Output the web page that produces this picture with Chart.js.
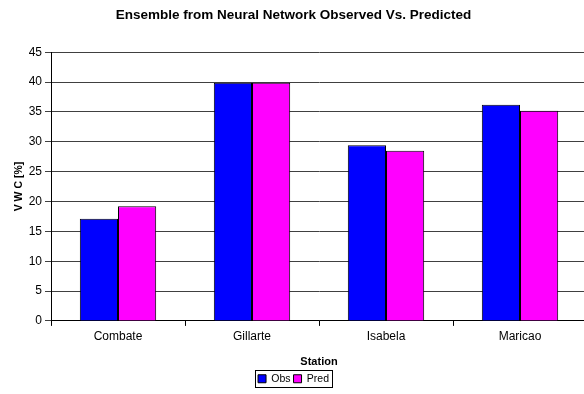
<!DOCTYPE html>
<html>
<head>
<meta charset="utf-8">
<style>
  html, body { margin: 0; padding: 0; background: #fff; overflow: hidden; }
  #wrap { width: 587px; height: 394px; }
</style>
<script src="https://cdn.jsdelivr.net/npm/chart.js@4/dist/chart.umd.min.js"></script>
</head>
<body>
<div id="wrap"><canvas id="c" width="587" height="394"></canvas></div>
<script>
// Stations and volumetric water content (%)
const stations = ['Combate', 'Gillarte', 'Isabela', 'Maricao'];
const observed = [17.1, 39.9, 29.4, 36.2];
const predicted = [19.2, 39.9, 28.5, 35.2];
const yTicks = [0, 5, 10, 15, 20, 25, 30, 35, 40, 45];

const FONT = 'Arial, "Liberation Sans", sans-serif';

// Draws a thin frame around the legend items
const legendFrame = {
  id: 'legendFrame',
  afterDraw(chart) {
    const lg = chart.legend;
    if (!lg || !lg.legendHitBoxes || !lg.legendHitBoxes.length) return;
    const boxes = lg.legendHitBoxes;
    let x0 = Infinity, x1 = -Infinity, y0 = Infinity, y1 = -Infinity;
    boxes.forEach(b => {
      x0 = Math.min(x0, b.left); x1 = Math.max(x1, b.left + b.width);
      y0 = Math.min(y0, b.top); y1 = Math.max(y1, b.top + b.height);
    });
    const ctx = chart.ctx;
    ctx.save();
    ctx.strokeStyle = '#000';
    ctx.lineWidth = 1;
    const left = Math.round(x0 - 3) + 0.5;
    const right = Math.round(x1 + 3) + 0.5;
    const top = Math.round(y0 - 4) + 0.5;
    const bottom = Math.round(y1 + 3) + 0.5;
    ctx.strokeRect(left, top, right - left, bottom - top);
    ctx.restore();
  }
};

new Chart(document.getElementById('c'), {
  type: 'bar',
  data: {
    labels: stations,
    datasets: [
      { label: 'Obs', data: observed, backgroundColor: '#0000ff', borderColor: '#000', borderWidth: 1 },
      { label: 'Pred', data: predicted, backgroundColor: '#ff00ff', borderColor: '#000', borderWidth: 1 }
    ]
  },
  options: {
    responsive: false,
    animation: false,
    layout: { padding: { left: 0, right: 0, top: 0, bottom: 0 } },
    datasets: { bar: { categoryPercentage: 0.57, barPercentage: 1.0 } },
    plugins: {
      title: {
        display: true,
        text: 'Ensemble from Neural Network Observed Vs. Predicted',
        color: '#000',
        font: { family: FONT, size: 13.5, weight: 'bold' },
        padding: { top: 7, bottom: 29 }
      },
      legend: {
        display: true,
        position: 'bottom',
        labels: {
          color: '#000',
          font: { family: FONT, size: 10.5 },
          boxWidth: 8,
          boxHeight: 8,
          padding: 3
        }
      },
      tooltip: { enabled: false }
    },
    scales: {
      x: {
        grid: { drawOnChartArea: false, drawTicks: true, tickLength: 5, color: '#000', offset: true },
        border: { color: '#000', width: 1 },
        ticks: { color: '#000', font: { family: FONT, size: 12 }, padding: 4 },
        title: {
          display: true, text: 'Station', color: '#000',
          font: { family: FONT, size: 11, weight: 'bold' }, padding: { top: 7, bottom: 2 }
        }
      },
      y: {
        min: 0, max: 45,
        afterBuildTicks(scale) { scale.ticks = yTicks.map(v => ({ value: v })); },
        afterFit(scale) { scale.width = 51; },
        grid: { color: '#404040', lineWidth: 1, tickLength: 6, drawTicks: true },
        border: { color: '#000', width: 1 },
        ticks: { color: '#000', font: { family: FONT, size: 12 }, padding: 3 },
        title: {
          display: true, text: 'V W C [%]', color: '#000',
          font: { family: FONT, size: 10.5, weight: 'bold' }, padding: { top: 13, bottom: 0 }
        }
      }
    }
  },
  plugins: [legendFrame]
});
</script>
</body>
</html>
